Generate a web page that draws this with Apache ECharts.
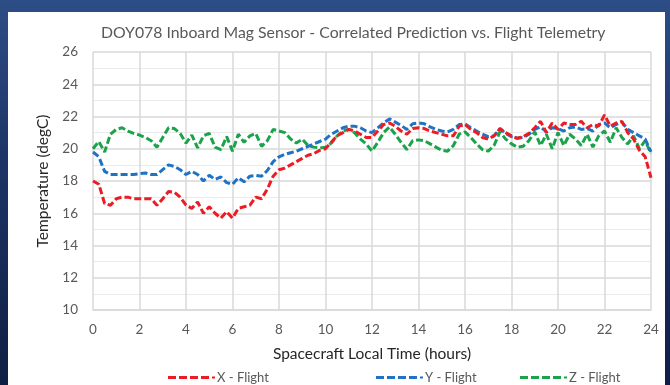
<!DOCTYPE html>
<html>
<head>
<meta charset="utf-8">
<script src="https://cdn.jsdelivr.net/npm/echarts@6/dist/echarts.min.js"></script>
<style>
html,body{margin:0;padding:0;width:670px;height:385px;overflow:hidden;
background:linear-gradient(180deg,#2d4d86 0%,#1d3566 40%,#0f1f44 100%);}
#chart{position:absolute;left:0;top:0;width:670px;height:385px;}
</style>
</head>
<body>
<div id="chart"></div>
<script>
// Time grid (hours) every 0.25 h
const timeHours = [];
for (let i = 0; i <= 96; i++) timeHours.push(i / 4);

const xFlight = [18.0,17.8,16.6,16.5,16.9,17.0,17.0,16.9,16.9,16.9,16.9,16.5,16.9,17.35,17.3,17.0,
16.5,16.3,16.7,16.0,16.4,16.0,15.7,16.1,15.7,16.3,16.4,16.5,17.0,16.9,17.5,18.3,
18.7,18.8,19.0,19.2,19.4,19.6,19.7,19.9,20.0,20.4,20.8,21.0,21.2,21.1,20.9,20.7,
20.7,21.1,21.5,21.6,21.4,21.1,20.9,21.25,21.3,21.25,21.1,21.0,20.9,20.8,20.8,21.4,
21.5,21.2,21.0,20.7,20.6,20.8,21.25,21.0,20.8,20.65,20.75,20.95,21.3,21.7,21.0,21.6,
21.2,21.6,21.5,21.5,21.7,21.3,21.5,21.4,22.1,21.4,21.6,21.7,21.0,20.6,19.9,19.5,18.2];

const yFlight = [19.8,19.5,18.6,18.4,18.4,18.4,18.4,18.4,18.45,18.5,18.4,18.4,18.7,19.0,18.9,18.7,
18.4,18.6,18.4,18.0,18.35,18.1,18.25,17.9,17.8,18.2,17.95,18.3,18.35,18.3,18.65,19.2,
19.5,19.65,19.75,19.85,20.0,20.15,20.3,20.45,20.6,20.9,21.1,21.3,21.4,21.4,21.3,21.1,
21.0,21.3,21.6,21.85,21.65,21.45,21.2,21.55,21.6,21.55,21.35,21.2,21.1,21.05,21.2,21.5,
21.55,21.3,21.1,20.9,20.75,20.8,21.25,20.95,20.75,20.65,20.7,20.9,21.2,21.35,21.05,21.3,
21.25,21.1,21.3,21.35,21.2,21.25,21.1,21.5,21.6,21.3,21.5,21.65,21.2,21.0,20.8,20.6,19.8];

const zFlight = [20.0,20.45,19.8,20.9,21.2,21.3,21.1,20.95,20.85,20.7,20.5,20.1,20.7,21.3,21.25,20.95,
20.35,20.85,20.05,20.8,20.95,20.1,19.95,20.75,19.85,20.9,20.4,20.8,20.95,20.15,20.5,21.2,
21.1,21.0,20.6,20.35,20.6,20.2,20.1,20.05,20.1,20.35,20.8,21.1,21.2,21.0,20.6,20.3,
19.85,20.4,21.0,21.35,20.9,20.4,19.95,20.5,20.55,20.5,20.3,20.1,19.9,19.85,20.2,20.9,
21.05,20.7,20.3,19.95,19.85,20.2,21.05,20.6,20.3,20.1,20.15,20.5,21.05,20.2,20.9,20.0,
21.0,20.2,20.9,20.6,20.2,20.9,20.1,20.8,21.1,20.4,21.3,20.7,20.3,20.8,20.0,20.5,19.7];

const seriesNames = ['X - Flight', 'Y - Flight', 'Z - Flight'];
const seriesColors = ['#ec1c24', '#1f72c4', '#1aa34a'];
const seriesValues = [xFlight, yFlight, zFlight];

const xTicks = [0, 24, 2];   // min, max, interval
const yTicks = [10, 26, 2];

const font = 'Lato, "Open Sans", sans-serif';
const chart = echarts.init(document.getElementById('chart'), null, {renderer: 'canvas'});

const series = seriesValues.map((vals, k) => ({
  name: seriesNames[k],
  type: 'line',
  showSymbol: false,
  symbol: 'none',
  smooth: false,
  data: timeHours.map((t, i) => [t, vals[i]]),
  lineStyle: {color: seriesColors[k], width: 3, type: [7, 3]},
  itemStyle: {color: seriesColors[k]},
  z: 3 + (2 - k)
}));

const dashIcon = 'path://M0,0h8v3h-8z M11,0h8v3h-8z M22,0h8v3h-8z M33,0h8v3h-8z M44,0.5h3v2h-3z';
const legendLefts = [163, 371, 515];
const legends = seriesNames.map((n, k) => ({
  data: [{name: n, icon: dashIcon}],
  left: legendLefts[k],
  top: 366,
  itemWidth: 47,
  itemHeight: 3,
  itemGap: 2,
  textStyle: {fontFamily: font, fontSize: 13, color: '#595959', padding: [0, 0, 0, -3]}
}));

chart.setOption({
  animation: false,
  backgroundColor: 'transparent',
  graphic: [{
    type: 'rect', left: 8, top: 12, z: -10,
    shape: {width: 657, height: 380},
    style: {fill: '#ffffff'}
  }],
  title: {
    text: 'DOY078 Inboard Mag Sensor - Correlated Prediction vs. Flight Telemetry',
    left: 96, top: 20,
    textStyle: {fontFamily: font, fontSize: 15.8, fontWeight: 'normal', color: '#595959'}
  },
  legend: legends,
  grid: {left: 93, right: 19, top: 52, bottom: 75, containLabel: false},
  xAxis: {
    type: 'value', min: xTicks[0], max: xTicks[1], interval: xTicks[2],
    name: 'Spacecraft Local Time (hours)', nameLocation: 'middle', nameGap: 36,
    nameTextStyle: {fontFamily: font, fontSize: 15.5, color: '#262626'},
    axisLine: {show: true, lineStyle: {color: '#d9d9d9', width: 1.5}},
    axisTick: {show: false},
    axisLabel: {fontFamily: font, fontSize: 13.5, color: '#595959', margin: 13},
    splitLine: {show: true, lineStyle: {color: '#d9d9d9', width: 1.5}}
  },
  yAxis: {
    type: 'value', min: yTicks[0], max: yTicks[1], interval: yTicks[2],
    name: 'Temperature (degC)', nameLocation: 'middle', nameGap: 42,
    nameTextStyle: {fontFamily: font, fontSize: 15.5, color: '#262626'},
    axisLine: {show: false},
    axisTick: {show: false},
    axisLabel: {fontFamily: font, fontSize: 13.5, color: '#595959', margin: 15},
    splitLine: {show: true, lineStyle: {color: '#d9d9d9', width: 1.5}},
    minorTick: {show: false, splitNumber: 2},
    minorSplitLine: {show: true, lineStyle: {color: '#ebebeb', width: 1.2}}
  },
  series: series
});
</script>
</body>
</html>
